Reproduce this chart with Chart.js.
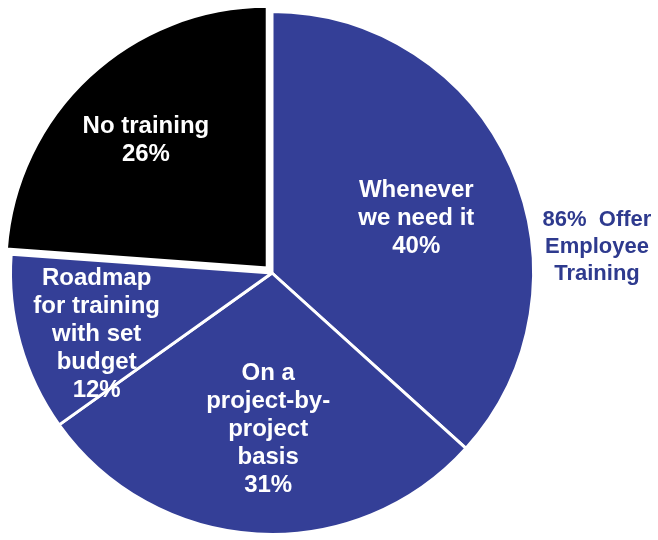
<!DOCTYPE html>
<html>
<head>
<meta charset="utf-8">
<script src="https://cdn.jsdelivr.net/npm/chart.js@4.4.1/dist/chart.umd.min.js"></script>
<style>
    html, body { margin: 0; padding: 0; background: #ffffff; overflow: hidden; }
    /* the pie bleeds a few px past the window edge, as in the original */
    #wrap { position: absolute; left: -5px; top: -4px; width: 668px; height: 554px; }
</style>
</head>
<body>
<div id="wrap"><canvas id="trainingChart"></canvas></div>
<script>
// Chart data
const categories = [
    ['Whenever', 'we need it'],
    ['On a', 'project-by-', 'project', 'basis'],
    ['Roadmap', 'for training', 'with set', 'budget'],
    ['No training']
];
const shares = [40, 31, 12, 26];
const sliceColors = ['#343f97', '#343f97', '#343f97', '#000000'];
const sliceOffsets = [0, 0, 0, 28];
const sideNote = ['86%  Offer', 'Employee', 'Training'];

// Where each label sits: nudge in degrees from the slice middle, distance as part of the radius
const labelPlacement = [
    { nudge: 3.2, dist: 0.59 },
    { nudge: -1.9, dist: 0.60 },
    { nudge: -3.5, dist: 0.71 },
    { nudge: -0.6, dist: 0.70 }
];

const fontFamily = 'Arial, "Liberation Sans", sans-serif';

// Draw slice labels and the side note
const labelPlugin = {
    id: 'sliceLabels',
    afterDatasetsDraw(chart) {
        const ctx = chart.ctx;
        const arcs = chart.getDatasetMeta(0).data;
        ctx.save();
        ctx.textAlign = 'center';
        ctx.textBaseline = 'middle';
        ctx.fillStyle = '#ffffff';
        ctx.font = 'bold 24px ' + fontFamily;
        const lineHeight = 28;

        arcs.forEach((arc, i) => {
            const place = labelPlacement[i];
            const mid = (arc.startAngle + arc.endAngle) / 2 + place.nudge * Math.PI / 180;
            const d = arc.outerRadius * place.dist;
            const x = arc.x + Math.cos(mid) * d;
            const y = arc.y + Math.sin(mid) * d;
            const lines = categories[i].concat([shares[i] + '%']);
            const top = y - (lines.length - 1) * lineHeight / 2;
            lines.forEach((line, j) => ctx.fillText(line, x, top + j * lineHeight));
        });

        // Side note to the right of the pie
        const area = chart.chartArea;
        const noteX = chart.width - 66;
        const noteY = (area.top + area.bottom) / 2 - 26;
        ctx.fillStyle = '#2e3a8e';
        ctx.font = 'bold 22px ' + fontFamily;
        const noteLine = 27;
        const noteTop = noteY - (sideNote.length - 1) * noteLine / 2;
        sideNote.forEach((line, j) => ctx.fillText(line, noteX, noteTop + j * noteLine));
        ctx.restore();
    }
};

new Chart(document.getElementById('trainingChart'), {
    type: 'pie',
    data: {
        labels: categories.map(c => c.join(' ')),
        datasets: [{
            data: shares,
            backgroundColor: sliceColors,
            borderColor: '#ffffff',
            borderWidth: 3,
            offset: sliceOffsets
        }]
    },
    options: {
        responsive: true,
        maintainAspectRatio: false,
        animation: false,
        layout: {
            padding: { left: 0, top: 0, right: 114, bottom: 0 }
        },
        plugins: {
            legend: { display: false },
            tooltip: { enabled: false }
        }
    },
    plugins: [labelPlugin]
});
</script>
</body>
</html>
